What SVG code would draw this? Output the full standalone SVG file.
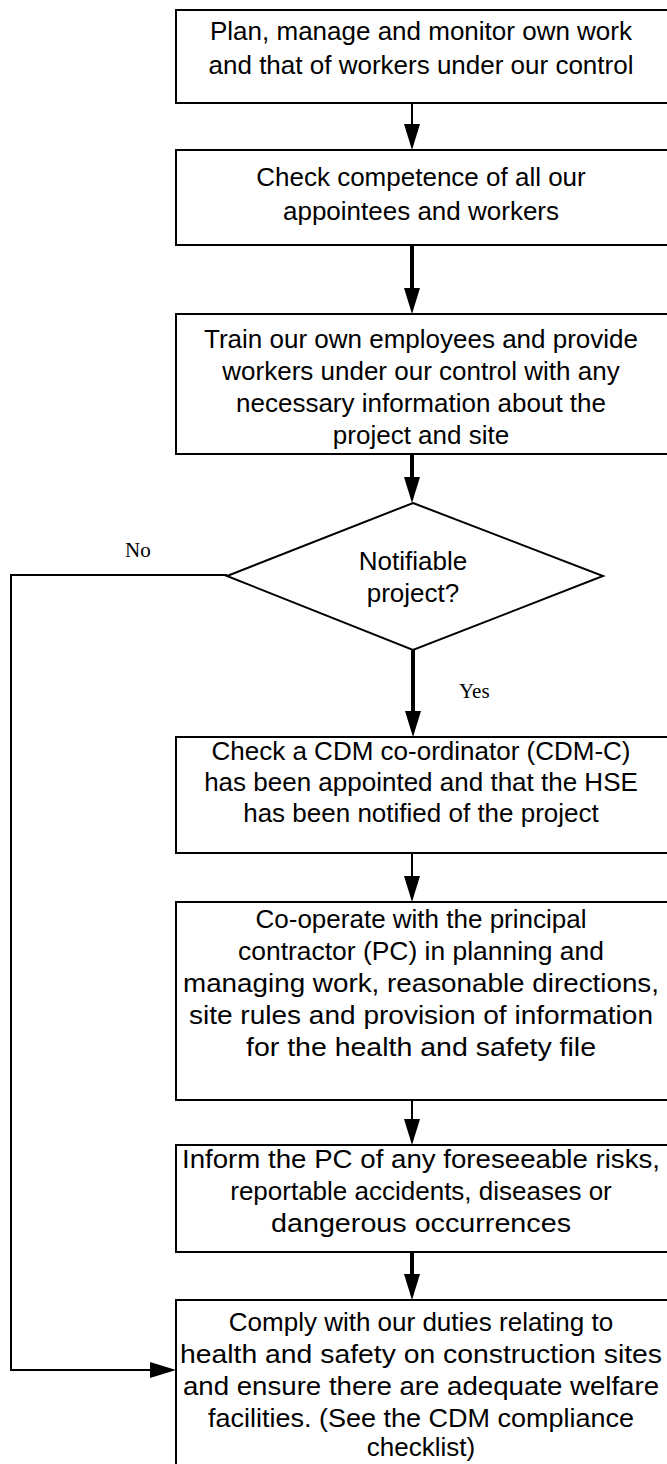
<svg xmlns="http://www.w3.org/2000/svg" width="667" height="1464" viewBox="0 0 667 1464">
<style>
.box{fill:#fff;stroke:#000;stroke-width:2}
.t{font-family:"Liberation Sans",Arial,sans-serif;font-size:26px;fill:#000;text-anchor:middle}
.lbl{font-family:"Liberation Serif","Times New Roman",serif;font-size:21px;fill:#000}
.thin{stroke:#000;stroke-width:2;fill:none}
.thick{stroke:#000;stroke-width:4;fill:none}
</style>
<defs>
<marker id="ah" markerUnits="userSpaceOnUse" markerWidth="26" markerHeight="16" refX="2" refY="8" orient="auto" viewBox="0 0 26 16">
<path d="M0,0 L26,8 L0,16 z" fill="#000"/>
</marker>
</defs>
<rect width="667" height="1464" fill="#fff"/>
<g id="connectors">
<line class="thin" x1="412" y1="103" x2="412" y2="126" marker-end="url(#ah)"/>
<line class="thick" x1="412" y1="245" x2="412" y2="290" marker-end="url(#ah)"/>
<line class="thick" x1="412" y1="454" x2="412" y2="479" marker-end="url(#ah)"/>
<line class="thick" x1="413" y1="650" x2="413" y2="713" marker-end="url(#ah)"/>
<line class="thin" x1="412" y1="853" x2="412" y2="878" marker-end="url(#ah)"/>
<line class="thin" x1="412" y1="1100" x2="412" y2="1121" marker-end="url(#ah)"/>
<line class="thick" x1="412" y1="1252" x2="412" y2="1276" marker-end="url(#ah)"/>
<path class="thin" d="M227,575 H11 V1370 H152" marker-end="url(#ah)"/>
<text class="lbl" x="125" y="557">No</text>
<text class="lbl" x="459" y="698">Yes</text>
</g>
<g id="n1">
<rect class="box" x="176" y="10" width="520" height="93"/>
<text class="t" x="421" y="40">Plan, manage and monitor own work</text>
<text class="t" x="421" y="74">and that of workers under our control</text>
</g>
<g id="n2">
<rect class="box" x="176" y="150" width="520" height="95"/>
<text class="t" x="421" y="186">Check competence of all our</text>
<text class="t" x="421" y="220">appointees and workers</text>
</g>
<g id="n3">
<rect class="box" x="176" y="314" width="520" height="140"/>
<text class="t" x="421" y="348">Train our own employees and provide</text>
<text class="t" x="421" y="380">workers under our control with any</text>
<text class="t" x="421" y="412">necessary information about the</text>
<text class="t" x="421" y="444">project and site</text>
</g>
<g id="n4">
<polygon class="box" points="413,503 603,576 413,650 227,576"/>
<text class="t" x="413" y="570">Notifiable</text>
<text class="t" x="413" y="602">project?</text>
</g>
<g id="n5">
<rect class="box" x="176" y="737" width="520" height="116"/>
<text class="t" x="421" y="760">Check a CDM co-ordinator (CDM-C)</text>
<text class="t" x="421" y="791">has been appointed and that the HSE</text>
<text class="t" x="421" y="822">has been notified of the project</text>
</g>
<g id="n6">
<rect class="box" x="176" y="902" width="520" height="198"/>
<text class="t" x="421" y="928">Co-operate with the principal</text>
<text class="t" x="421" y="960" textLength="366" lengthAdjust="spacingAndGlyphs">contractor (PC) in planning and</text>
<text class="t" x="421" y="992" textLength="476" lengthAdjust="spacingAndGlyphs">managing work, reasonable directions,</text>
<text class="t" x="421" y="1024" textLength="464" lengthAdjust="spacingAndGlyphs">site rules and provision of information</text>
<text class="t" x="421" y="1056" textLength="350" lengthAdjust="spacingAndGlyphs">for the health and safety file</text>
</g>
<g id="n7">
<rect class="box" x="176" y="1145" width="520" height="107"/>
<text class="t" x="421" y="1168" textLength="478" lengthAdjust="spacingAndGlyphs">Inform the PC of any foreseeable risks,</text>
<text class="t" x="421" y="1200">reportable accidents, diseases or</text>
<text class="t" x="421" y="1232" textLength="300" lengthAdjust="spacingAndGlyphs">dangerous occurrences</text>
</g>
<g id="n8">
<rect class="box" x="176" y="1300" width="520" height="180"/>
<text class="t" x="421" y="1331">Comply with our duties relating to</text>
<text class="t" x="421" y="1363" textLength="482" lengthAdjust="spacingAndGlyphs">health and safety on construction sites</text>
<text class="t" x="421" y="1395" textLength="476" lengthAdjust="spacingAndGlyphs">and ensure there are adequate welfare</text>
<text class="t" x="421" y="1427" textLength="426" lengthAdjust="spacingAndGlyphs">facilities. (See the CDM compliance</text>
<text class="t" x="421" y="1456">checklist)</text>
</g>
</svg>
